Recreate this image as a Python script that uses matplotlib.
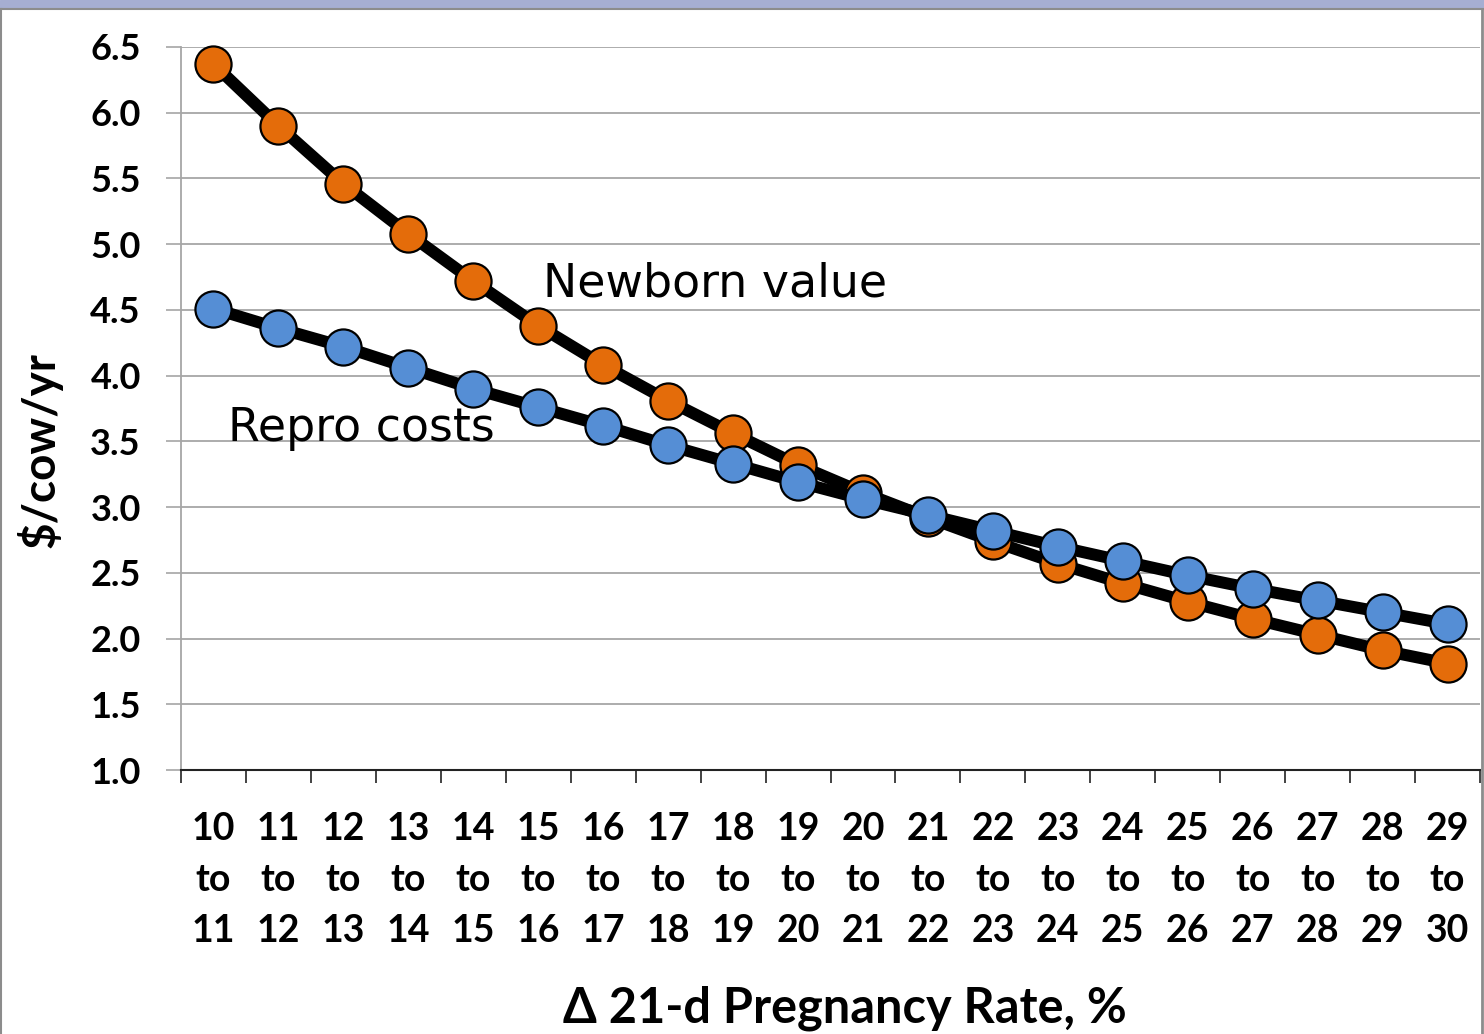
import matplotlib.pyplot as plt
import numpy as np
from matplotlib.patches import Rectangle
from matplotlib.lines import Line2D

# data
start = list(range(10, 30))
categories = [f"{s}\nto\n{s + 1}" for s in start]
newborn_value = [6.37, 5.90, 5.46, 5.08, 4.72, 4.38, 4.08, 3.81, 3.56, 3.32,
                 3.11, 2.92, 2.74, 2.57, 2.42, 2.28, 2.15, 2.03, 1.91, 1.81]
repro_costs = [4.51, 4.36, 4.22, 4.06, 3.90, 3.76, 3.62, 3.47, 3.33, 3.19,
               3.06, 2.94, 2.82, 2.70, 2.59, 2.48, 2.38, 2.29, 2.20, 2.11]
yticks = [1.0, 1.5, 2.0, 2.5, 3.0, 3.5, 4.0, 4.5, 5.0, 5.5, 6.0, 6.5]

ORANGE = "#E46C0A"
BLUE = "#558ED5"
GRID = "#A6A6A6"
TICKFONT = dict(family="Lato", weight="bold")

fig = plt.figure(figsize=(14.84, 10.34), dpi=100)
ax = fig.add_axes([181 / 1484, 1 - 770 / 1034, (1480 - 181) / 1484, (770 - 47) / 1034])

x = np.arange(len(categories))
line_kw = dict(color="black", lw=8.6, marker="o", ms=26, mec="black", mew=1.6,
               solid_joinstyle="round", solid_capstyle="round", clip_on=False)
ax.plot(x, newborn_value, mfc=ORANGE, zorder=3, **line_kw)
ax.plot(x, repro_costs, mfc=BLUE, zorder=4, **line_kw)

ax.set_xlim(-0.5, len(categories) - 0.5)
ax.set_ylim(1.0, 6.5)
ax.set_yticks(yticks)
ax.set_yticklabels([f"{v:.1f}" for v in yticks], fontsize=26, **TICKFONT)
ax.set_xticks(x)
ax.set_xticklabels(categories, fontsize=27, linespacing=1.62, **TICKFONT)
ax.set_xticks(np.arange(-0.5, len(categories)), minor=True)
ax.tick_params(axis="x", which="major", length=0, pad=30)
ax.tick_params(axis="x", which="minor", length=9.5, width=1.2, color="#222222")
ax.tick_params(axis="y", length=11, width=1.2, color=GRID, pad=18)

ax.yaxis.grid(True, color=GRID, lw=1.3)
ax.set_axisbelow(True)
for s in ("top", "right"):
    ax.spines[s].set_visible(False)
ax.spines["left"].set_color(GRID)
ax.spines["left"].set_linewidth(1.3)
ax.spines["bottom"].set_color("#222222")
ax.spines["bottom"].set_linewidth(1.5)

ax.text(5.08, 4.70, "Newborn value", fontsize=33, family="DejaVu Sans", va="center", ha="left")
ax.text(0.22, 3.60, "Repro costs", fontsize=33, family="DejaVu Sans", va="center", ha="left")

fig.text(40 / 1484, 1 - 450 / 1034, "\\$/cow/yr", rotation=90, fontsize=33,
         va="center", ha="center", **TICKFONT)
fig.text(845 / 1484, 1 - 1008 / 1034, "Δ 21-d Pregnancy Rate, %", fontsize=35,
         va="center", ha="center", **TICKFONT)

# slide frame: light blue band on top, grey edges
fig.patches.append(Rectangle((0, 1 - 8 / 1034), 1, 8 / 1034, transform=fig.transFigure,
                             color="#A6AED2", zorder=0))
fig.lines.append(Line2D([0, 1], [1 - 9 / 1034] * 2, transform=fig.transFigure, color="#8C8C8C", lw=1.5))
fig.lines.append(Line2D([1 / 1484] * 2, [0, 1 - 9 / 1034], transform=fig.transFigure, color="#8C8C8C", lw=1.5))
fig.lines.append(Line2D([1482 / 1484] * 2, [0, 1 - 9 / 1034], transform=fig.transFigure, color="#8C8C8C", lw=2))

fig.savefig("out.png", dpi=100)
